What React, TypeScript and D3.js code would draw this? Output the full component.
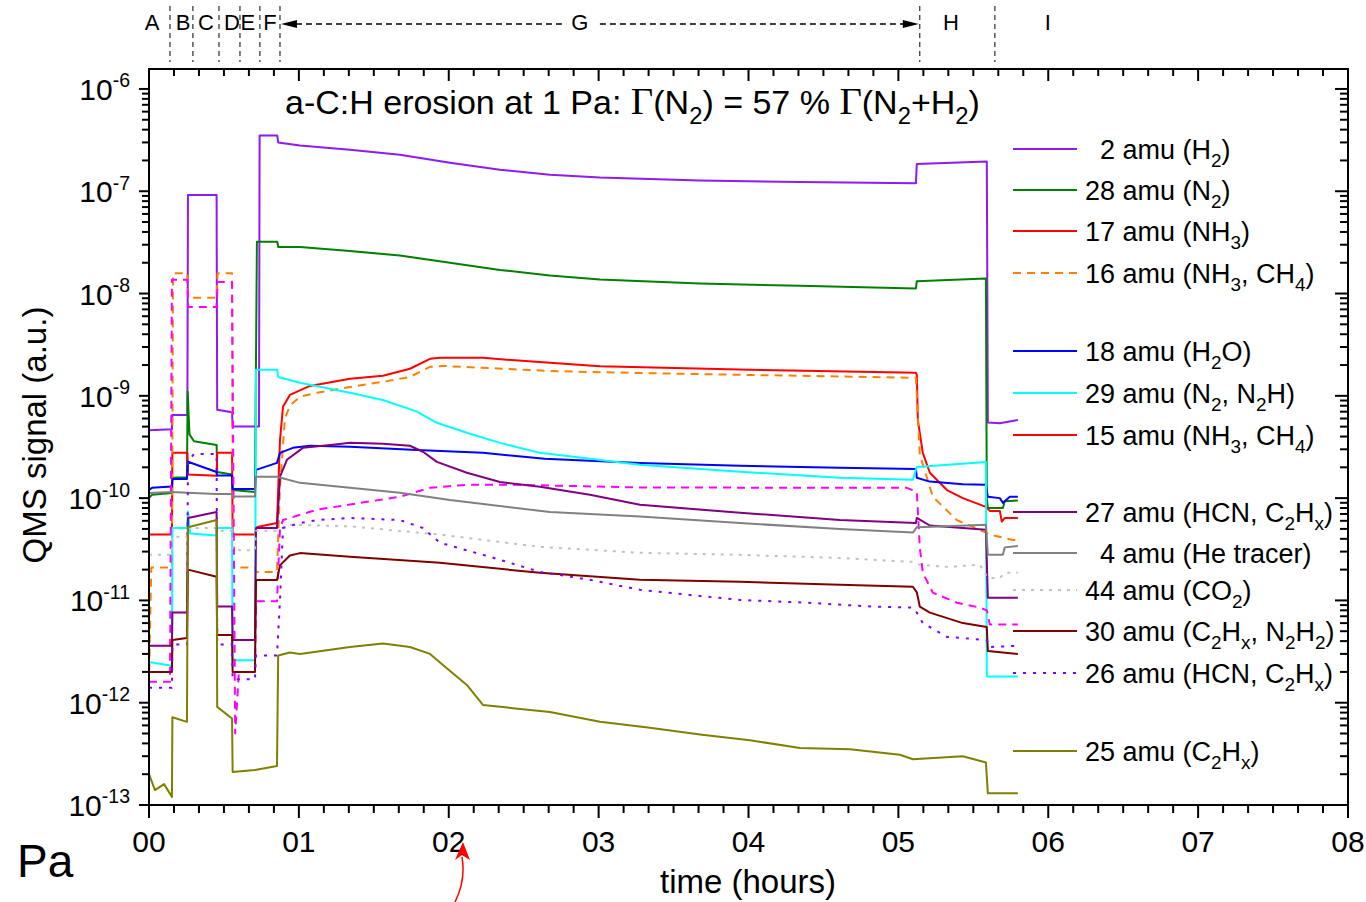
import React, { useEffect } from "react";
import * as d3 from "d3";

type Pt = [number, number];

// ---------- axes / annotation data ----------
const hourTicks = [0, 1, 2, 3, 4, 5, 6, 7, 8];
const hourLabels = ["00", "01", "02", "03", "04", "05", "06", "07", "08"];
const decadeExps = [-13, -12, -11, -10, -9, -8, -7, -6];
const phaseBounds = [0.14, 0.293, 0.467, 0.607, 0.74, 0.874, 5.143, 5.644];
const phaseLabels = ["A", "B", "C", "D", "E", "F", "G", "H", "I"];
const phaseLabelTimes = [0.02, 0.227, 0.38, 0.554, 0.66, 0.807, 2.875, 5.35, 5.997];
const titleText = "a-C:H erosion at 1 Pa: Γ(N_{2}) = 57 % Γ(N_{2}+H_{2})";

// ---------- series data: [time (hours), signal (a.u.)] ----------
const s02: Pt[] = [[0,4.6e-10],[0.153,4.7e-10],[0.156,6.5e-10],[0.256,6.5e-10],[0.26,9.2e-8],[0.451,9.2e-8],[0.455,7.3e-10],[0.554,6.9e-10],[0.558,5e-10],[0.734,5e-10],[0.738,3.5e-7],[0.856,3.5e-7],[0.862,3.0e-7],[1.007,2.8e-7],[1.341,2.55e-7],[1.674,2.27e-7],[2.008,1.9e-7],[2.342,1.62e-7],[2.675,1.45e-7],[3.009,1.36e-7],[3.676,1.27e-7],[4.343,1.23e-7],[5.117,1.2e-7],[5.123,1.85e-7],[5.59,1.95e-7],[5.597,5.5e-10],[5.677,5.4e-10],[5.797,5.8e-10]];
const s28: Pt[] = [[0,1.0e-10],[0.02,1.08e-10],[0.153,1.12e-10],[0.156,1.58e-10],[0.253,1.6e-10],[0.258,1.1e-9],[0.27,4.2e-10],[0.3,3.6e-10],[0.451,3.3e-10],[0.455,1.8e-10],[0.554,1.7e-10],[0.558,1.2e-10],[0.707,1.15e-10],[0.72,3.2e-8],[0.856,3.2e-8],[0.862,2.85e-8],[1.007,2.85e-8],[1.341,2.6e-8],[1.674,2.35e-8],[2.008,2.0e-8],[2.342,1.7e-8],[2.675,1.5e-8],[3.009,1.37e-8],[3.676,1.25e-8],[4.343,1.19e-8],[5.117,1.12e-8],[5.123,1.32e-8],[5.584,1.4e-8],[5.59,1.0e-10],[5.597,8e-11],[5.697,8e-11],[5.71,9.3e-11],[5.797,9.5e-11]];
const s17: Pt[] = [[0,4.4e-11],[0.153,4.4e-11],[0.156,2.77e-10],[0.256,2.77e-10],[0.26,1.7e-10],[0.451,1.65e-10],[0.455,2.77e-10],[0.554,2.77e-10],[0.558,4.4e-11],[0.707,4.4e-11],[0.714,5.2e-11],[0.854,5.7e-11],[0.874,3.7e-10],[0.894,7.8e-10],[0.94,1.02e-9],[1.074,1.25e-9],[1.341,1.47e-9],[1.561,1.57e-9],[1.741,1.84e-9],[1.875,2.3e-9],[1.941,2.35e-9],[2.228,2.35e-9],[2.675,2.1e-9],[3.009,1.95e-9],[4.009,1.8e-9],[5.117,1.68e-9],[5.123,1.6e-9],[5.13,5.8e-10],[5.163,2.77e-10],[5.21,1.77e-10],[5.324,1.2e-10],[5.43,1.0e-10],[5.584,8.2e-11],[5.61,7.5e-11],[5.677,7.5e-11],[5.69,5.9e-11],[5.71,6.4e-11],[5.797,6.4e-11]];
const s16: Pt[] = [[0,1.5e-12],[0.015,2.1e-11],[0.153,2.1e-11],[0.16,1.58e-8],[0.256,1.58e-8],[0.262,9.1e-9],[0.451,9.1e-9],[0.458,1.58e-8],[0.554,1.58e-8],[0.56,2.1e-11],[0.707,2.1e-11],[0.714,1.9e-11],[0.854,1.9e-11],[0.874,1.3e-10],[0.907,6e-10],[0.94,8e-10],[1.007,9.8e-10],[1.12,1.07e-9],[1.341,1.22e-9],[1.561,1.37e-9],[1.741,1.53e-9],[1.875,1.92e-9],[1.961,1.96e-9],[2.675,1.75e-9],[3.009,1.7e-9],[4.009,1.6e-9],[5.117,1.5e-9],[5.143,2.65e-10],[5.23,1.03e-10],[5.39,6.1e-11],[5.544,4.9e-11],[5.61,4.4e-11],[5.764,3.9e-11],[5.797,3.9e-11]];
const s18: Pt[] = [[0,1.2e-10],[0.02,1.26e-10],[0.153,1.3e-10],[0.156,1.54e-10],[0.253,1.54e-10],[0.26,2.27e-10],[0.451,1.8e-10],[0.455,1.66e-10],[0.554,1.66e-10],[0.558,1.23e-10],[0.707,1.23e-10],[0.714,1.89e-10],[0.854,2.21e-10],[0.874,2.77e-10],[0.96,3.1e-10],[1.074,3.25e-10],[1.341,3.17e-10],[1.788,2.96e-10],[2.228,2.77e-10],[2.64,2.42e-10],[3.276,2.21e-10],[3.943,2.07e-10],[4.61,1.98e-10],[5.117,1.93e-10],[5.123,1.58e-10],[5.21,1.45e-10],[5.43,1.37e-10],[5.584,1.35e-10],[5.597,1.03e-10],[5.677,1.0e-10],[5.697,9e-11],[5.744,1.03e-10],[5.797,1.03e-10]];
const s29: Pt[] = [[0,2.5e-12],[0.153,2.3e-12],[0.156,5.1e-11],[0.253,5.1e-11],[0.26,7.4e-11],[0.275,4.5e-11],[0.451,4.3e-11],[0.455,5.1e-11],[0.554,5.1e-11],[0.558,2.6e-12],[0.707,2.6e-12],[0.714,1.8e-9],[0.856,1.8e-9],[0.862,1.53e-9],[1.007,1.34e-9],[1.341,1.07e-9],[1.561,9.1e-10],[1.788,7e-10],[1.921,5.45e-10],[2.121,4.35e-10],[2.342,3.47e-10],[2.608,2.77e-10],[3.276,2.12e-10],[3.943,1.81e-10],[4.61,1.58e-10],[5.097,1.51e-10],[5.123,2.02e-10],[5.584,2.26e-10],[5.59,1.8e-12],[5.797,1.8e-12]];
const s15: Pt[] = [[0,1.6e-12],[0.14,1.6e-12],[0.153,1.36e-8],[0.256,1.36e-8],[0.262,7.4e-9],[0.451,7.4e-9],[0.458,1.3e-8],[0.554,1.3e-8],[0.575,5e-13],[0.6,2e-12],[0.707,2e-12],[0.714,9.8e-12],[0.854,9.8e-12],[0.874,5e-11],[0.894,6.1e-11],[1.12,7.7e-11],[1.454,9.2e-11],[1.674,1.03e-10],[1.875,1.26e-10],[2.121,1.35e-10],[2.455,1.35e-10],[3.276,1.27e-10],[5.057,1.26e-10],[5.123,1.15e-10],[5.143,3.3e-11],[5.163,1.86e-11],[5.23,1.19e-11],[5.39,9.5e-12],[5.544,8.5e-12],[5.59,8e-12],[5.61,5.8e-12],[5.797,5.8e-12]];
const s27: Pt[] = [[0,3.6e-12],[0.153,3.6e-12],[0.156,7.6e-12],[0.253,7.6e-12],[0.26,6.4e-11],[0.451,7.3e-11],[0.455,8.7e-12],[0.554,8.7e-12],[0.558,4.1e-12],[0.707,4.1e-12],[0.714,5.1e-11],[0.854,5.1e-11],[0.874,1.62e-10],[0.92,2.37e-10],[1.027,3.1e-10],[1.227,3.32e-10],[1.341,3.47e-10],[1.561,3.4e-10],[1.741,3.25e-10],[1.828,2.84e-10],[1.921,2.26e-10],[2.121,1.77e-10],[2.342,1.44e-10],[2.608,1.29e-10],[2.942,1.08e-10],[3.276,8.6e-11],[3.943,7.2e-11],[4.61,6.1e-11],[5.117,5.7e-11],[5.123,6.4e-11],[5.21,5.4e-11],[5.43,5.1e-11],[5.584,4.9e-11],[5.597,1.06e-11],[5.797,1.06e-11]];
const s04: Pt[] = [[0,1.12e-10],[0.153,1.15e-10],[0.253,1.13e-10],[0.451,1.1e-10],[0.554,1.1e-10],[0.558,1.04e-10],[0.707,1.04e-10],[0.714,1.62e-10],[0.854,1.62e-10],[1.007,1.41e-10],[1.341,1.26e-10],[1.674,1.13e-10],[2.008,9.6e-11],[2.675,7.3e-11],[3.276,6.6e-11],[3.943,5.7e-11],[4.61,5.0e-11],[5.097,4.6e-11],[5.123,5.2e-11],[5.324,5.3e-11],[5.584,5.5e-11],[5.597,2.8e-11],[5.697,2.8e-11],[5.71,3.3e-11],[5.797,3.4e-11]];
const s44: Pt[] = [[0,2.8e-11],[0.153,2.8e-11],[0.156,4.2e-11],[0.253,4.2e-11],[0.26,5.1e-11],[0.451,5.1e-11],[0.455,4.8e-11],[0.554,4.8e-11],[0.558,3.1e-11],[0.707,3.1e-11],[0.714,4.8e-11],[0.854,4.8e-11],[0.94,5.5e-11],[1.341,5.3e-11],[1.941,4.4e-11],[2.608,3.34e-11],[3.276,2.92e-11],[3.943,2.79e-11],[4.61,2.6e-11],[5.097,2.38e-11],[5.143,2.23e-11],[5.324,2.13e-11],[5.544,2.23e-11],[5.597,1.66e-11],[5.677,1.66e-11],[5.71,1.86e-11],[5.797,1.86e-11]];
const s30: Pt[] = [[0,2e-12],[0.153,2e-12],[0.156,4.1e-12],[0.253,4.3e-12],[0.26,2e-11],[0.451,1.7e-11],[0.455,4.6e-12],[0.554,4.6e-12],[0.558,2e-12],[0.707,2e-12],[0.714,1.58e-11],[0.854,1.58e-11],[0.874,2.2e-11],[0.94,2.75e-11],[1.007,2.9e-11],[1.341,2.67e-11],[1.941,2.33e-11],[2.608,1.86e-11],[3.276,1.59e-11],[3.943,1.52e-11],[4.61,1.42e-11],[5.097,1.36e-11],[5.123,1.2e-11],[5.143,8.7e-12],[5.21,7.6e-12],[5.43,6e-12],[5.59,5.5e-12],[5.597,3.2e-12],[5.797,3.0e-12]];
const s26: Pt[] = [[0,1.4e-12],[0.153,1.4e-12],[0.156,3.7e-12],[0.253,3.7e-12],[0.26,2.27e-10],[0.3,2.7e-10],[0.451,2.7e-10],[0.455,3.7e-12],[0.554,3.7e-12],[0.558,1.7e-12],[0.707,1.7e-12],[0.714,2.9e-12],[0.854,2.9e-12],[0.874,1e-11],[0.894,5.1e-11],[1.007,5.7e-11],[1.12,6.1e-11],[1.341,6.4e-11],[1.674,6.1e-11],[1.828,5.1e-11],[1.941,3.66e-11],[2.275,2.67e-11],[2.608,1.9e-11],[2.942,1.59e-11],[3.276,1.27e-11],[3.609,1.13e-11],[3.943,1.01e-11],[4.39,9.5e-12],[4.83,8.7e-12],[5.097,8.5e-12],[5.123,7.6e-12],[5.163,6e-12],[5.324,4.4e-12],[5.59,4.1e-12],[5.61,3.5e-12],[5.797,3.6e-12]];
const s25: Pt[] = [[0,2e-13],[0.04,1.4e-13],[0.1,1.6e-13],[0.153,1.2e-13],[0.156,7.2e-13],[0.253,6.5e-13],[0.26,5.2e-11],[0.451,6.1e-11],[0.455,9.1e-13],[0.554,7e-13],[0.558,2.1e-13],[0.707,2.2e-13],[0.854,2.4e-13],[0.862,2.9e-12],[0.94,3.1e-12],[1.007,3.0e-12],[1.341,3.5e-12],[1.561,3.8e-12],[1.741,3.5e-12],[1.875,3.0e-12],[1.961,2.34e-12],[2.121,1.49e-12],[2.228,9.5e-13],[2.675,8.1e-13],[3.009,6.5e-13],[3.342,5.7e-13],[3.676,4.9e-13],[4.009,4.3e-13],[4.343,3.6e-13],[4.676,3.5e-13],[5.01,3.1e-13],[5.097,2.8e-13],[5.43,3.0e-13],[5.584,2.6e-13],[5.597,1.3e-13],[5.797,1.3e-13]];

const seriesLabels = [
  "2 amu (H_{2})", "28 amu (N_{2})", "17 amu (NH_{3})", "16 amu (NH_{3}, CH_{4})",
  "18 amu (H_{2}O)", "29 amu (N_{2}, N_{2}H)", "15 amu (NH_{3}, CH_{4})",
  "27 amu (HCN, C_{2}H_{x})", "4 amu (He tracer)", "44 amu (CO_{2})",
  "30 amu (C_{2}H_{x}, N_{2}H_{2})", "26 amu (HCN, C_{2}H_{x})", "25 amu (C_{2}H_{x})",
];
const seriesData = [s02, s28, s17, s16, s18, s29, s15, s27, s04, s44, s30, s26, s25];

// ---------- styles / layout ----------
const seriesStyle = [
  { color: "#8F1AF5", dash: "" },
  { color: "#008000", dash: "" },
  { color: "#FF0000", dash: "" },
  { color: "#FF8000", dash: "8,6" },
  { color: "#0000FF", dash: "" },
  { color: "#00FFFF", dash: "" },
  { color: "#FF00FF", dash: "8,6", legendColor: "#FF0000", legendDash: "" },
  { color: "#800080", dash: "" },
  { color: "#808080", dash: "" },
  { color: "#C0C0C0", dash: "3,6" },
  { color: "#800000", dash: "" },
  { color: "#8000FF", dash: "3,7" },
  { color: "#808000", dash: "" },
];
const legendRowsY = [149, 190, 231, 273, 351, 393, 435, 512, 553, 590, 631, 673, 751];

const FONT = "'Liberation Sans', Arial, Helvetica, sans-serif";
const SERIF = "'Liberation Serif', 'Times New Roman', serif";
const PLOT = { left: 149, right: 1348, top: 69, bottom: 805 };

function rich(s: string, fs: number, gammaScale = 1.08) {
  const parts = s.split(/(_\{[^}]*\}|\^\{[^}]*\}|Γ)/).filter((p) => p !== "");
  let off = 0;
  return parts.map((p, i) => {
    let target = 0;
    let size = fs;
    let txt = p;
    let family: string | undefined = undefined;
    if (p.startsWith("_{")) { target = fs * 0.3; size = fs * 0.7; txt = p.slice(2, -1); }
    else if (p.startsWith("^{")) { target = -fs * 0.42; size = fs * 0.65; txt = p.slice(2, -1); }
    else if (p === "Γ") { family = SERIF; size = fs * gammaScale; }
    const dy = target - off;
    off = target;
    return (
      <tspan key={i} dy={dy} fontSize={size} fontFamily={family}>{txt}</tspan>
    );
  });
}

export default function App() {
  useEffect(() => {
    document.body.style.margin = "0";
  }, []);

  const x = d3.scaleLinear().domain([0, 8]).range([PLOT.left, PLOT.right]);
  const y = d3.scaleLog().domain([1e-13, Math.pow(10, -5.805)]).range([PLOT.bottom, PLOT.top]);
  const line = d3.line<Pt>().x((d) => x(d[0])).y((d) => y(d[1]));

  const minorX: number[] = [];
  for (let i = 0; i <= 48; i++) if (i % 6 !== 0) minorX.push(i / 6);
  const yTop = y.domain()[1];
  const minorY: number[] = [];
  decadeExps.forEach((e) => {
    for (let m = 2; m <= 9; m++) {
      const v = m * Math.pow(10, e);
      if (v < yTop) minorY.push(v);
    }
  });

  const tickFs = 30;
  const legFs = 27;
  const digitW = legFs * 0.556;
  const titleFs = 34;

  const gX0 = x(phaseBounds[5]);
  const gX1 = x(phaseBounds[6]);
  const gY = 24;
  const gMid = x(phaseLabelTimes[6]);
  const arrowX = x(2.095);

  return (
    <svg width={1366} height={902} style={{ position: "absolute", left: 0, top: 0, background: "#fff" }} fontFamily={FONT}>
      <rect x={0} y={0} width={1366} height={902} fill="#fff" />
      <defs>
        <clipPath id="plotclip">
          <rect x={PLOT.left} y={PLOT.top} width={PLOT.right - PLOT.left} height={PLOT.bottom - PLOT.top} />
        </clipPath>
      </defs>

      {/* phase markers */}
      {phaseBounds.map((t, i) => (
        <line key={"pb" + i} x1={x(t)} x2={x(t)} y1={6} y2={62} stroke="#000" strokeWidth={1} strokeDasharray="5,4" />
      ))}
      <line x1={gX0 + 16} x2={gMid - 18} y1={gY} y2={gY} stroke="#000" strokeWidth={1.3} strokeDasharray="6,4" />
      <line x1={gMid + 20} x2={gX1 - 16} y1={gY} y2={gY} stroke="#000" strokeWidth={1.3} strokeDasharray="6,4" />
      <polygon points={`${gX0 + 1},${gY} ${gX0 + 17},${gY - 4} ${gX0 + 17},${gY + 4}`} fill="#000" />
      <polygon points={`${gX1 - 1},${gY} ${gX1 - 17},${gY - 4} ${gX1 - 17},${gY + 4}`} fill="#000" />
      {phaseLabels.map((l, i) => (
        <text key={"pl" + i} x={x(phaseLabelTimes[i])} y={30} fontSize={22} textAnchor="middle">{l}</text>
      ))}

      {/* data */}
      <g clipPath="url(#plotclip)">
        {seriesData.map((d, i) => (
          <path key={"s" + i} d={line(d) || ""} fill="none" stroke={seriesStyle[i].color} strokeWidth={2}
            strokeDasharray={seriesStyle[i].dash || undefined} strokeLinejoin="round" />
        ))}
      </g>

      {/* frame */}
      <rect x={PLOT.left} y={PLOT.top} width={PLOT.right - PLOT.left} height={PLOT.bottom - PLOT.top} fill="none" stroke="#000" strokeWidth={2} />

      {/* x ticks */}
      {hourTicks.map((h) => (
        <g key={"xt" + h}>
          <line x1={x(h)} x2={x(h)} y1={PLOT.bottom} y2={PLOT.bottom + 13} stroke="#000" strokeWidth={2} />
          <line x1={x(h)} x2={x(h)} y1={PLOT.top} y2={PLOT.top + 12} stroke="#000" strokeWidth={2} />
        </g>
      ))}
      {minorX.map((h, i) => (
        <g key={"xm" + i}>
          <line x1={x(h)} x2={x(h)} y1={PLOT.bottom} y2={PLOT.bottom + 8} stroke="#000" strokeWidth={2} />
          <line x1={x(h)} x2={x(h)} y1={PLOT.top} y2={PLOT.top + 7} stroke="#000" strokeWidth={2} />
        </g>
      ))}
      {hourTicks.map((h, i) => (
        <text key={"xl" + h} x={x(h)} y={852} fontSize={tickFs} textAnchor="middle">{hourLabels[i]}</text>
      ))}

      {/* y ticks */}
      {decadeExps.map((e) => {
        const yy = y(Math.pow(10, e));
        return (
          <g key={"yt" + e}>
            <line x1={PLOT.left - 10} x2={PLOT.left} y1={yy} y2={yy} stroke="#000" strokeWidth={2} />
            <line x1={PLOT.right - 13} x2={PLOT.right} y1={yy} y2={yy} stroke="#000" strokeWidth={2} />
            <text x={130} y={yy + 11} fontSize={tickFs} textAnchor="end">{rich("10^{-" + String(-e) + "}", tickFs)}</text>
          </g>
        );
      })}
      {minorY.map((v, i) => (
        <g key={"ym" + i}>
          <line x1={PLOT.left - 7} x2={PLOT.left} y1={y(v)} y2={y(v)} stroke="#000" strokeWidth={2} />
          <line x1={PLOT.right - 8} x2={PLOT.right} y1={y(v)} y2={y(v)} stroke="#000" strokeWidth={2} />
        </g>
      ))}

      {/* axis titles */}
      <text transform="translate(46,435) rotate(-90)" fontSize={33} textAnchor="middle">QMS signal (a.u.)</text>
      <text x={748} y={893} fontSize={33} textAnchor="middle">time (hours)</text>

      {/* title */}
      <text x={285} y={114} fontSize={titleFs}>{rich(titleText, titleFs, 1.14)}</text>

      {/* legend */}
      {seriesLabels.map((lab, i) => {
        const st = seriesStyle[i];
        const ly = legendRowsY[i];
        const single = /^\d\s/.test(lab);
        return (
          <g key={"lg" + i}>
            <line x1={1013} x2={1077} y1={ly} y2={ly} stroke={st.legendColor || st.color} strokeWidth={2}
              strokeDasharray={(st.legendDash !== undefined ? st.legendDash : st.dash) || undefined} />
            <text x={1085 + (single ? digitW : 0)} y={ly + 10} fontSize={legFs}>{rich(lab, legFs)}</text>
          </g>
        );
      })}

      {/* bottom-left annotations */}
      <text x={17} y={877} fontSize={46}>Pa</text>
      <path d={`M${arrowX - 8},902 Q${arrowX + 3},880 ${arrowX - 1},857`} fill="none" stroke="#FF0000" strokeWidth={1.5} />
      <polygon points={`${arrowX},842 ${arrowX - 8},860 ${arrowX - 1},855 ${arrowX + 7},860`} fill="#FF0000" />
    </svg>
  );
}
